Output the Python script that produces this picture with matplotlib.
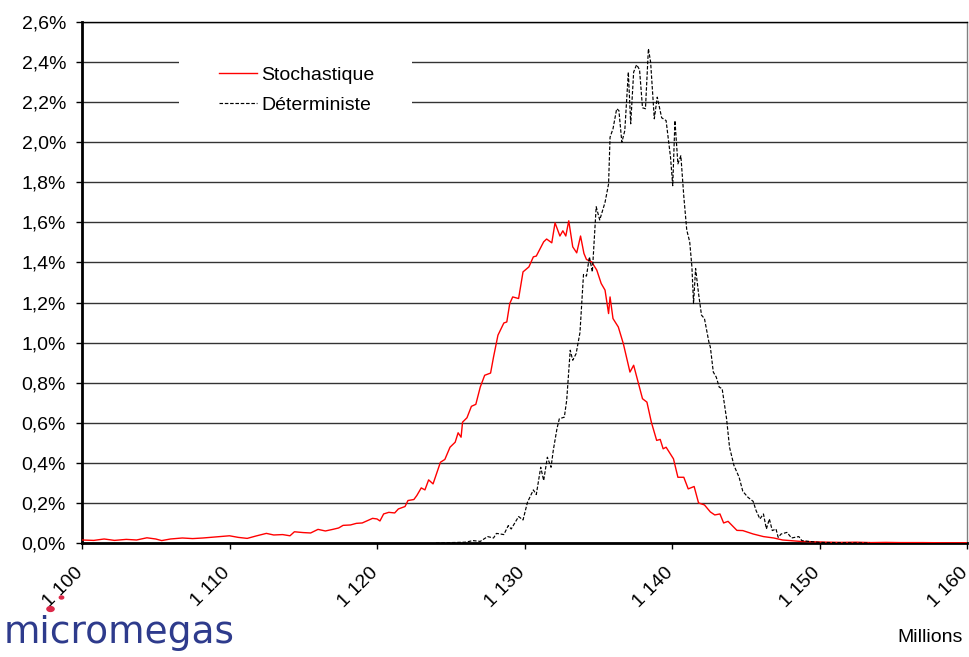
#!/usr/bin/env python3
"""Distribution chart: stochastique vs déterministe (Millions)."""
import matplotlib
matplotlib.use("Agg")
import matplotlib.pyplot as plt
from matplotlib.patches import Circle, Rectangle
from matplotlib.ticker import FuncFormatter, MultipleLocator
from matplotlib.transforms import ScaledTranslation

# --- data (values in %) ---------------------------------------------------
stoch_x = [
    1100.0, 1100.8, 1101.5, 1102.2, 1103.0, 1103.7, 1104.4, 1105.0, 1105.4, 1106.0,
    1106.8, 1107.5, 1108.2, 1109.0, 1110.0, 1110.6, 1111.2, 1111.8, 1112.5, 1113.0,
    1113.6, 1114.1, 1114.4, 1115.0, 1115.5, 1116.0, 1116.5, 1117.0, 1117.4, 1117.7,
    1118.2, 1118.6, 1119.0, 1119.3, 1119.7, 1120.0, 1120.2, 1120.45, 1120.8, 1121.2,
    1121.45, 1121.9, 1122.1, 1122.5, 1122.7, 1123.0, 1123.25, 1123.5, 1123.8, 1124.3,
    1124.6, 1124.95, 1125.3, 1125.5, 1125.7, 1125.8, 1126.1, 1126.4, 1126.7, 1127.0,
    1127.3, 1127.7, 1127.9, 1128.2, 1128.6, 1128.8, 1129.0, 1129.2, 1129.6, 1129.9,
    1130.3, 1130.6, 1130.8, 1131.3, 1131.5, 1131.85, 1132.07, 1132.4, 1132.6, 1132.8,
    1133.0, 1133.27, 1133.54, 1133.8, 1134.03, 1134.2, 1134.55, 1134.9, 1135.2, 1135.46,
    1135.7, 1135.8, 1136.0, 1136.36, 1136.7, 1137.15, 1137.4, 1137.7, 1138.0, 1138.3,
    1138.6, 1138.96, 1139.2, 1139.4, 1139.6, 1140.1, 1140.4, 1140.8, 1141.1, 1141.5,
    1141.8, 1142.2, 1142.6, 1142.9, 1143.25, 1143.5, 1143.8, 1144.4, 1144.8, 1145.5,
    1146.2, 1146.9, 1147.5, 1148.0, 1148.7, 1149.5, 1150.5, 1151.5, 1152.5, 1153.5,
    1154.5, 1155.5, 1157.0, 1158.5, 1160.0,
]
stoch_pct = [
    0.015, 0.013, 0.020, 0.013, 0.018, 0.015, 0.026, 0.020, 0.012, 0.020,
    0.025, 0.022, 0.025, 0.030, 0.036, 0.028, 0.023, 0.035, 0.048, 0.040,
    0.042, 0.036, 0.056, 0.052, 0.050, 0.068, 0.060, 0.068, 0.075, 0.088,
    0.090, 0.098, 0.100, 0.110, 0.123, 0.120, 0.110, 0.145, 0.153, 0.150,
    0.170, 0.182, 0.212, 0.217, 0.237, 0.275, 0.265, 0.315, 0.295, 0.403,
    0.417, 0.478, 0.503, 0.550, 0.528, 0.603, 0.625, 0.682, 0.692, 0.778,
    0.837, 0.848, 0.928, 1.037, 1.098, 1.103, 1.195, 1.228, 1.220, 1.353,
    1.378, 1.428, 1.432, 1.503, 1.517, 1.498, 1.598, 1.532, 1.558, 1.532,
    1.608, 1.478, 1.448, 1.532, 1.445, 1.415, 1.403, 1.362, 1.295, 1.262,
    1.145, 1.228, 1.120, 1.078, 0.995, 0.853, 0.887, 0.803, 0.720, 0.703,
    0.603, 0.512, 0.517, 0.470, 0.478, 0.420, 0.328, 0.328, 0.270, 0.282,
    0.200, 0.190, 0.155, 0.140, 0.145, 0.100, 0.108, 0.063, 0.062, 0.045,
    0.032, 0.025, 0.015, 0.012, 0.008, 0.006, 0.004, 0.003, 0.004, 0.002,
    0.003, 0.002, 0.002, 0.001, 0.001,
]

determ_x = [
    1124.0, 1125.0, 1126.0, 1126.5, 1127.0, 1127.5, 1127.9, 1128.1, 1128.6, 1128.9,
    1129.1, 1129.6, 1129.9, 1130.2, 1130.6, 1130.8, 1131.1, 1131.3, 1131.55, 1131.8,
    1131.95, 1132.2, 1132.36, 1132.7, 1132.86, 1133.1, 1133.27, 1133.5, 1133.76, 1134.0,
    1134.2, 1134.4, 1134.6, 1134.86, 1135.1, 1135.46, 1135.7, 1135.8, 1136.0, 1136.25,
    1136.4, 1136.6, 1136.8, 1137.04, 1137.2, 1137.4, 1137.6, 1137.8, 1138.0, 1138.2,
    1138.4, 1138.55, 1138.8, 1139.0, 1139.3, 1139.6, 1139.9, 1140.05, 1140.2, 1140.4,
    1140.6, 1140.8, 1141.0, 1141.2, 1141.35, 1141.46, 1141.6, 1141.8, 1142.0, 1142.2,
    1142.5, 1142.6, 1142.8, 1143.0, 1143.2, 1143.4, 1143.7, 1143.9, 1144.2, 1144.55,
    1144.8, 1145.15, 1145.5, 1145.7, 1145.96, 1146.2, 1146.4, 1146.6, 1146.8, 1147.05,
    1147.2, 1147.4, 1147.8, 1148.1, 1148.6, 1148.8, 1149.4, 1150.0, 1151.0, 1152.0,
    1153.4,
]
determ_pct = [
    0.000, 0.002, 0.004, 0.012, 0.008, 0.032, 0.025, 0.048, 0.042, 0.087,
    0.070, 0.132, 0.115, 0.203, 0.265, 0.242, 0.378, 0.312, 0.428, 0.378,
    0.462, 0.570, 0.620, 0.628, 0.712, 0.962, 0.912, 0.945, 1.050, 1.340,
    1.332, 1.428, 1.353, 1.678, 1.612, 1.700, 1.792, 2.025, 2.067, 2.167,
    2.158, 2.000, 2.058, 2.350, 2.092, 2.350, 2.387, 2.362, 2.172, 2.167,
    2.467, 2.400, 2.117, 2.225, 2.122, 2.108, 1.925, 1.783, 2.108, 1.892,
    1.933, 1.730, 1.562, 1.503, 1.378, 1.195, 1.370, 1.245, 1.137, 1.120,
    1.003, 0.978, 0.853, 0.828, 0.778, 0.770, 0.620, 0.478, 0.387, 0.328,
    0.258, 0.228, 0.208, 0.162, 0.120, 0.145, 0.070, 0.120, 0.062, 0.070,
    0.028, 0.045, 0.053, 0.025, 0.032, 0.012, 0.007, 0.003, 0.002, 0.001,
    0.000,
]

series_labels = ["Stochastique", "Déterministe"]
x_ticks = [1100, 1110, 1120, 1130, 1140, 1150, 1160]
x_unit = "Millions"
logo_text = "micromegas"

plt.rcParams["font.family"] = ["Liberation Sans", "DejaVu Sans"]
FS = 14

fig = plt.figure(figsize=(9.7, 6.57), dpi=100)
ax = fig.add_axes([82 / 970, 1 - 543 / 657, 885 / 970, 521 / 657])

ax.set_xlim(1100, 1160)
ax.set_ylim(0, 2.6)

# horizontal grid every 0.2 %
ax.yaxis.set_major_locator(MultipleLocator(0.2))
ax.grid(axis="y", color="#333333", lw=1.0, zorder=1)
ax.set_axisbelow(True)

ax.plot(stoch_x, stoch_pct, color="#ff0000", lw=1.0, label=series_labels[0], zorder=3)
ax.plot(determ_x, determ_pct, color="black", lw=0.85, ls=(0, (3, 1.5)),
        label=series_labels[1], zorder=3)

# white block behind the legend cuts the grid lines, like the original
ax.add_patch(Rectangle((1106.6, 2.07), 15.8, 0.45, facecolor="white",
                       edgecolor="none", zorder=2))
ax.legend(loc="center left", bbox_to_anchor=(137 / 885, (543 - 90) / 521),
          frameon=False, fontsize=FS, borderpad=0, borderaxespad=0,
          handlelength=1.96, handletextpad=0.2, labelspacing=0.66)

fmt_pct = FuncFormatter(lambda v, _: f"{v:.1f}%".replace(".", ","))
ax.yaxis.set_major_formatter(fmt_pct)
ax.set_xticks(x_ticks)
ax.set_xticklabels([f"{t // 1000} {t % 1000:03d}" for t in x_ticks])
ax.tick_params(axis="both", direction="out", length=4.5, width=1, labelsize=FS,
               color="black")
ax.tick_params(axis="x", pad=15)
ax.tick_params(axis="y", pad=7)
shift = ScaledTranslation(-2 / 100, 0, fig.dpi_scale_trans)
for lbl in ax.get_xticklabels():
    lbl.set_rotation(45)
    lbl.set_rotation_mode("anchor")
    lbl.set_ha("right")
    lbl.set_va("center")
    lbl.set_transform(lbl.get_transform() + shift)

for side in ("left", "bottom"):
    ax.spines[side].set_linewidth(2.0)
    ax.spines[side].set_color("black")
ax.spines["top"].set_linewidth(1.0)
ax.spines["top"].set_color("black")
ax.spines["right"].set_linewidth(1.0)
ax.spines["right"].set_color("#808080")

fig.text(963 / 970, 1 - 637 / 657, x_unit, ha="right", va="center", fontsize=FS)

# logo
fig.text(4 / 970, 1 - 643 / 657, logo_text, ha="left", va="baseline",
         fontsize=27, color="#2e3b8c", family="DejaVu Sans")
fig.patches.append(Circle((50.5 / 970, 1 - 609 / 657), 3.6 / 970,
                          transform=fig.transFigure, color="#dc2848"))
fig.patches.append(Circle((61.5 / 970, 1 - 597.5 / 657), 2.2 / 970,
                          transform=fig.transFigure, color="#dc2848"))

fig.savefig("out.png", dpi=100)
